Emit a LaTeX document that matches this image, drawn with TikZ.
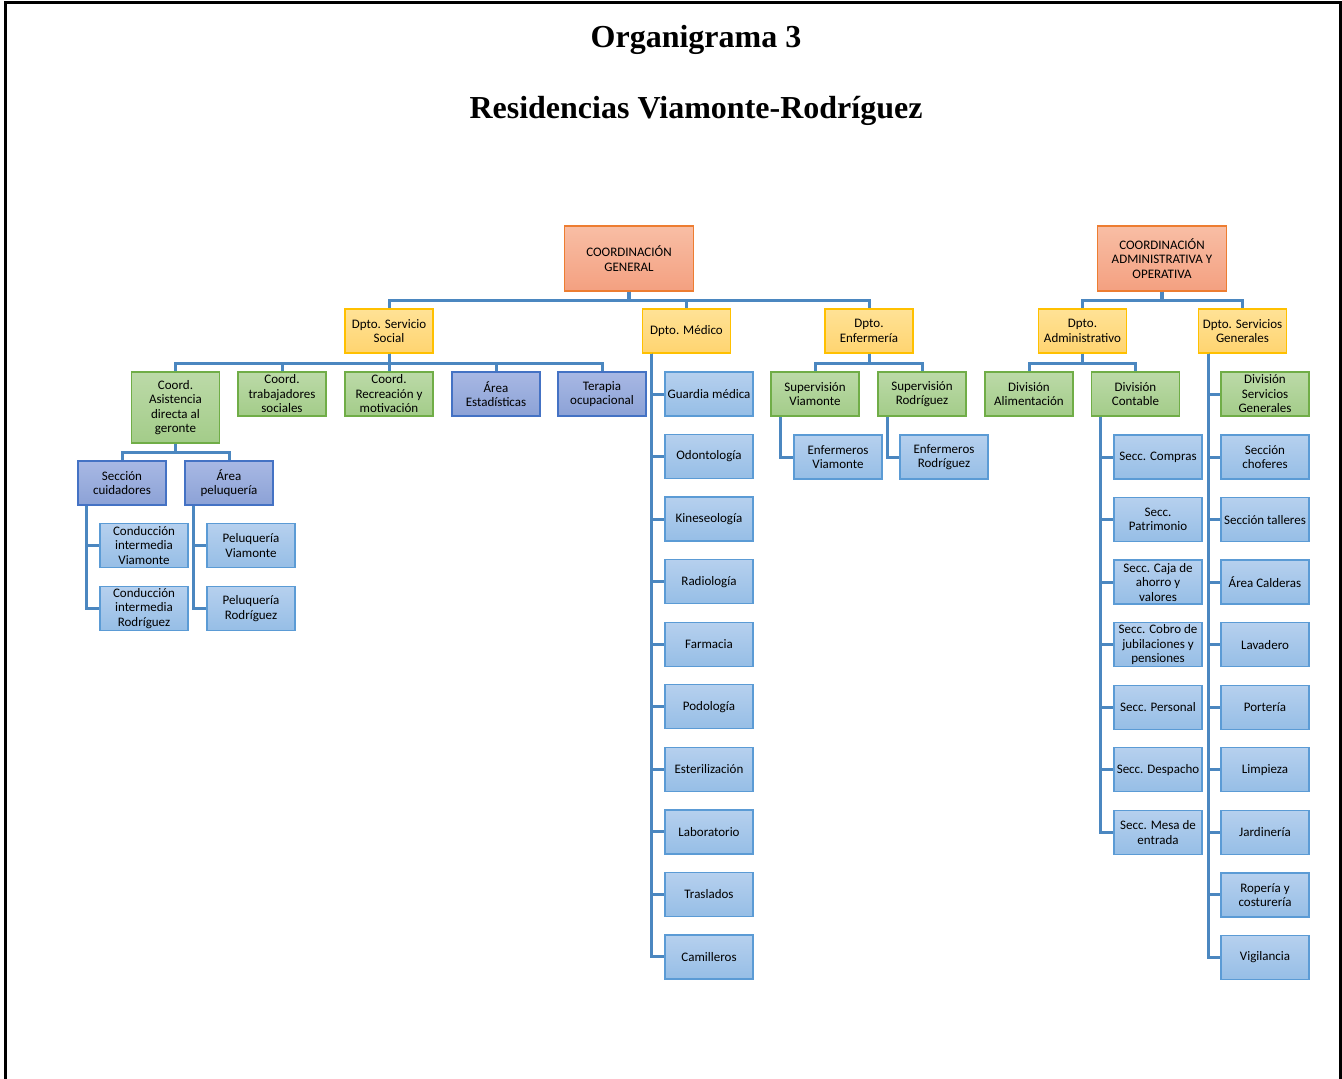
\documentclass[tikz,border=0pt]{standalone}
\usepackage{fontspec}
\setmainfont{Carlito}
\newfontfamily\titlefont{Liberation Serif}
\usetikzlibrary{calc}

\definecolor{orangeline}{RGB}{237,125,49}
\definecolor{orangetop}{RGB}{248,190,165}
\definecolor{orangebot}{RGB}{244,160,128}
\definecolor{yellowline}{RGB}{255,192,0}
\definecolor{yellowtop}{RGB}{255,226,150}
\definecolor{yellowbot}{RGB}{255,212,112}
\definecolor{greenline}{RGB}{112,173,71}
\definecolor{greentop}{RGB}{188,218,168}
\definecolor{greenbot}{RGB}{163,204,137}
\definecolor{purpleline}{RGB}{68,114,196}
\definecolor{purpletop}{RGB}{168,184,228}
\definecolor{purplebot}{RGB}{140,162,214}
\definecolor{blueline}{RGB}{91,155,213}
\definecolor{bluetop}{RGB}{182,208,238}
\definecolor{bluebot}{RGB}{150,190,230}
\definecolor{connline}{RGB}{75,135,192}

\begin{document}
\begin{tikzpicture}[x=1pt, y=-1pt,
    box/.style={draw, line width=1.3pt, minimum width=88pt, minimum height=44pt,
        inner sep=1pt, align=center, font=\fontsize{13}{14.5}\selectfont},
    orangebox/.style={box, draw=orangeline, top color=orangetop, bottom color=orangebot,
        minimum width=129pt, minimum height=65pt},
    yellowbox/.style={box, draw=yellowline, top color=yellowtop, bottom color=yellowbot},
    greenbox/.style={box, draw=greenline, top color=greentop, bottom color=greenbot},
    purplebox/.style={box, draw=purpleline, top color=purpletop, bottom color=purplebot},
    bluebox/.style={box, draw=blueline, top color=bluetop, bottom color=bluebot},
    conn/.style={draw=connline, line width=3pt},
    titletext/.style={anchor=base, font=\titlefont\fontsize{32}{38}\selectfont\bfseries}]

    \useasboundingbox (0,0) rectangle (1342,1079);

    % Frame
    \draw[line width=3pt] (5.5,1079) -- (5.5,2) -- (1340.5,2) -- (1340.5,1079);

    % Titles
    \node[titletext] (title1) at (696,47) {Organigrama 3};
    \node[titletext] (title2) at (696,118) {Residencias Viamonte-Rodríguez};

    % Top level
    \node[orangebox] (cg) at (629,258.5) {COORDINACIÓN\\GENERAL};
    \node[orangebox] (cao) at (1162,258.5) {COORDINACIÓN\\ADMINISTRATIVA Y\\OPERATIVA};

    % Departments
    \node[yellowbox] (dss) at (389,331) {Dpto. Servicio\\Social};
    \node[yellowbox] (dmed) at (686.5,331) {Dpto. Médico};
    \node[yellowbox] (denf) at (869,331) {Dpto.\\Enfermería};
    \node[yellowbox] (dadm) at (1082.5,331) {Dpto.\\Administrativo};
    \node[yellowbox] (dsg) at (1242.5,331) {Dpto. Servicios\\Generales};

    % Servicio Social
    \node[greenbox, minimum height=71pt] (asist) at (175.5,407.5) {Coord.\\Asistencia\\directa al\\geronte};
    \node[greenbox] (trab) at (282,394) {Coord.\\trabajadores\\sociales};
    \node[greenbox] (recr) at (389,394) {Coord.\\Recreación y\\motivación};
    \node[purplebox] (estad) at (496,394) {Área\\Estadísticas};
    \node[purplebox] (terap) at (602,394) {Terapia\\ocupacional};

    \node[purplebox] (cuid) at (122,483) {Sección\\cuidadores};
    \node[purplebox] (pelu) at (229,483) {Área\\peluquería};
    \node[bluebox] (condv) at (144,545.5) {Conducción\\intermedia\\Viamonte};
    \node[bluebox] (condr) at (144,608.5) {Conducción\\intermedia\\Rodríguez};
    \node[bluebox] (peluv) at (251,545.5) {Peluquería\\Viamonte};
    \node[bluebox] (pelur) at (251,608.5) {Peluquería\\Rodríguez};

    % Medico
    \foreach \name [count=\i] in {Guardia médica, Odontología, Kineseología, Radiología,
        Farmacia, Podología, Esterilización, Laboratorio, Traslados, Camilleros}
        \node[bluebox] (med\i) at (709,394+62.55*\i-62.55) {\name};

    % Enfermeria
    \node[greenbox] (supv) at (815,394) {Supervisión\\Viamonte};
    \node[greenbox] (supr) at (922,394) {Supervisión\\Rodríguez};
    \node[bluebox] (enfv) at (838,457) {Enfermeros\\Viamonte};
    \node[bluebox] (enfr) at (944,457) {Enfermeros\\Rodríguez};

    % Administrativo
    \node[greenbox] (alim) at (1029,394) {División\\Alimentación};
    \node[greenbox] (cont) at (1135.5,394) {División\\Contable};
    \foreach \name [count=\i] in {Secc. Compras, {Secc.\\Patrimonio}, {Secc. Caja de\\ahorro y\\valores},
        {Secc. Cobro de\\jubilaciones y\\pensiones}, Secc. Personal, Secc. Despacho, {Secc. Mesa de\\entrada}}
        \node[bluebox] (cont\i) at (1158,457+62.55*\i-62.55) {\name};

    % Servicios Generales
    \node[greenbox] (divsg) at (1265,394) {División\\Servicios\\Generales};
    \foreach \name [count=\i] in {{Sección\\choferes}, Sección talleres, Área Calderas, Lavadero,
        Portería, Limpieza, Jardinería, {Ropería y\\costurería}, Vigilancia}
        \node[bluebox] (sg\i) at (1265,457+62.55*\i-62.55) {\name};

    % Connectors
    \foreach \child in {dss, dmed, denf}
        \draw[conn] (cg.south) -- ++(0,9) -| (\child.north);
    \foreach \child in {dadm, dsg}
        \draw[conn] (cao.south) -- ++(0,9) -| (\child.north);
    \draw[conn, line width=4.5pt] (cg.south) -- ++(0,9);
    \draw[conn, line width=4pt] (cao.south) -- ++(0,9);
    \foreach \child in {asist, trab, recr, estad, terap}
        \draw[conn] (dss.south) -- ++(0,10) -| (\child.north);
    \foreach \child in {cuid, pelu}
        \draw[conn] (asist.south) -- ++(0,9) -| (\child.north);
    \foreach \child in {supv, supr}
        \draw[conn] (denf.south) -- ++(0,10) -| (\child.north);
    \foreach \child in {alim, cont}
        \draw[conn] (dadm.south) -- ++(0,10) -| (\child.north);
    \foreach \child in {condv, condr}
        \draw[conn] ([xshift=9pt]cuid.south west) |- (\child.west);
    \foreach \child in {peluv, pelur}
        \draw[conn] ([xshift=9pt]pelu.south west) |- (\child.west);
    \draw[conn] ([xshift=10pt]supv.south west) |- (enfv.west);
    \draw[conn] ([xshift=10pt]supr.south west) |- (enfr.west);
    \foreach \i in {1,...,10}
        \draw[conn] ([xshift=10pt]dmed.south west) |- (med\i.west);
    \foreach \i in {1,...,7}
        \draw[conn] ([xshift=10pt]cont.south west) |- (cont\i.west);
    \draw[conn] ([xshift=11pt]dsg.south west) |- (divsg.west);
    \foreach \i in {1,...,9}
        \draw[conn] ([xshift=11pt]dsg.south west) |- (sg\i.west);
\end{tikzpicture}
\end{document}
